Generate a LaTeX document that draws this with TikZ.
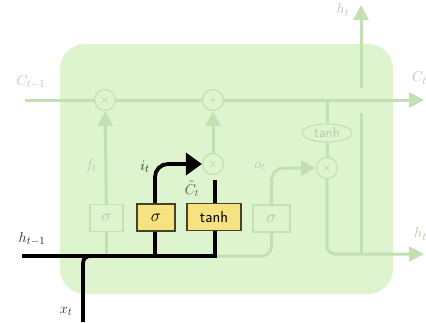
\documentclass[tikz,border=0pt]{standalone}
\usetikzlibrary{arrows.meta,shapes.geometric,calc}
\pgfdeclarelayer{back}
\pgfdeclarelayer{lines}
\pgfsetlayers{back,lines,main}
\definecolor{cellbg}{RGB}{222,244,206}
\definecolor{fadeline}{RGB}{196,224,178}
\definecolor{fadetext}{RGB}{180,200,176}
\definecolor{gatefill}{RGB}{246,226,128}
\definecolor{gatedraw}{RGB}{70,66,40}
\begin{document}
\begin{tikzpicture}[x=1pt,y=-1pt,
  fl/.style={draw=fadeline,line width=3pt},
  bl/.style={draw=black,line width=3.8pt},
  fhead/.style={-{Triangle[length=15pt,width=15pt]}},
  bhead/.style={-{Triangle[length=16pt,width=22pt]}},
  mul/.style={circle,draw=fadeline,line width=1.2pt,fill=cellbg,minimum size=21pt,inner sep=0pt,text=fadetext,font=\fontsize{13}{13}\selectfont},
  ell/.style={ellipse,draw=fadeline,line width=1.2pt,fill=cellbg,minimum width=50pt,minimum height=18pt,inner sep=0pt,text=fadetext,font=\sffamily\fontsize{14}{14}\selectfont},
  fbox/.style={rectangle,draw=fadeline,line width=1.2pt,fill=cellbg,minimum height=27pt,inner sep=0pt,text=fadetext,font=\fontsize{18}{18}\selectfont},
  ybox/.style={rectangle,draw=gatedraw,line width=1.6pt,fill=gatefill,minimum height=27pt,inner sep=0pt,text=black,font=\fontsize{18}{18}\selectfont},
  flab/.style={text=fadetext,font=\fontsize{15}{15}\selectfont,inner sep=0pt},
  dlab/.style={text=black!85,font=\fontsize{15}{15}\selectfont,inner sep=0pt}
]
\useasboundingbox (0,0) rectangle (426,322);
\begin{pgfonlayer}{back}
\fill[cellbg, rounded corners=25pt] (60,44) rectangle (393,294);
\end{pgfonlayer}

% nodes
\node[mul] (fx) at (105,100) {$\times$};
\node[mul] (px) at (213,100) {$+$};
\node[mul] (ix) at (213,164) {$\times$};
\node[mul] (ox) at (327,168) {$\times$};
\node[ell] (th2) at (327,133) {tanh};
\node[fbox,minimum width=33pt] (fs) at (106.5,218) {$\sigma$};
\node[ybox,minimum width=38pt] (is) at (156,217.5) {$\sigma$};
\node[ybox,minimum width=54pt,font=\sffamily\fontsize{16}{16}\selectfont] (tb) at (214,217) {tanh};
\node[fbox,minimum width=37pt] (os) at (271.5,218.5) {$\sigma$};

\coordinate (cin) at (25,100);
\coordinate (cout) at (424,100);
\coordinate (hin) at (22,256);
\coordinate (xin) at (83,322);
\coordinate (hjoin) at (215,256);
\coordinate (htop) at (361,5);
\coordinate (hright) at (424,254);

\begin{pgfonlayer}{lines}
% cell state line
\draw[fl,fhead] (cin) -- (cout);
% forget gate
\draw[fl] (fs.south |- hin) -- (fs);
\draw[fl,fhead] (fs) -- (fx);
% input to cell
\draw[fl,fhead] (ix) -- (px);
\draw[fl] (tb.north) ++(1,-30) -- (ix);
% output gate
\draw[fl,rounded corners=10pt] (hjoin) -- (os.south |- hjoin) -- (os);
\draw[fl,fhead,rounded corners=12pt] (os) -- (os.north |- ox) -- (ox.west);
\draw[fl] (th2) -- (th2 |- fx);
\draw[fl] (th2) -- (ox);
\draw[fl,fhead,rounded corners=8pt] (ox) -- (ox |- hright) -- (hright);
\draw[fl] (361,254) -- (361,113);
\draw[fl,fhead] (361,88) -- (htop);
% black path
\draw[bl] (hin) -- (hjoin) -- ++(0,-76);
\draw[bl,rounded corners=7pt] (xin) -- (xin |- hin) -- ++(18,0);
\draw[bl,bhead,rounded corners=13pt] (155,256) -- (155,164) -- (ix.west);
\end{pgfonlayer}

% labels
\node[dlab] (lct1) at (31,82) {\textcolor{fadetext}{$C_{t-1}$}};
\node[dlab] (lht1) at (32,239) {$h_{t-1}$};
\node[dlab] (lxt) at (66,311) {$x_t$};
\node[dlab] (lit) at (145,167) {$i_t$};
\node[dlab,text=black!70,font=\fontsize{14}{14}\selectfont] (lct) at (192,189) {$\tilde{C}_t$};
\node[flab] (lft) at (91,166) {$f_t$};
\node[flab] (lot) at (260,166) {$o_t$};
\node[flab] (lhtop) at (343,10) {$h_t$};
\node[flab,anchor=west] (lcright) at (412,78) {$C_t$};
\node[flab,anchor=west] (lhright) at (414,234) {$h_t$};
\end{tikzpicture}
\end{document}
